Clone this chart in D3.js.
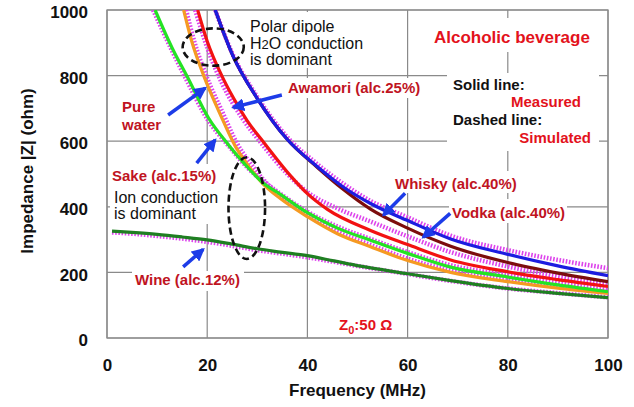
<!DOCTYPE html>
<html>
<head>
<meta charset="utf-8">
<script src="https://cdn.jsdelivr.net/npm/d3@7"></script>
<style>
  html, body { margin: 0; padding: 0; background: #fff; }
  svg { display: block; font-family: "Liberation Sans", Arial, sans-serif; }
</style>
</head>
<body>
<svg id="chart" width="634" height="407"></svg>
<script>
// ---- axis ticks ----
const freqTicks = [0, 20, 40, 60, 80, 100];
const impTicks = [0, 200, 400, 600, 800, 1000];

// ---- measured impedance |Z| (ohm) vs frequency (MHz) ----
const whiskyMeasured = [[21.6,1000],[25,865],[30,730],[36,605],[42,522],[47,462],[52.6,410],[60,358],[68.6,302],[80,255],[90,220],[100,190]];
const vodkaMeasured = [[21.6,1000],[25,865],[30,730],[36,605],[42,520],[47,455],[52.6,393],[60,335],[68.6,280],[80,230],[90,198],[100,172]];
const awamoriMeasured = [[18.1,1000],[20,905],[22.9,800],[25.3,730],[28,662],[31.3,596],[36.6,495],[40,440],[44,392],[52.6,328],[60,285],[68.6,238],[80,202],[90,178],[100,157]];
const pureWaterMeasured = [[15.3,1000],[17,900],[19.3,800],[22.6,682],[25.6,585],[28,530],[31,472],[34.6,425],[40,370],[46,318],[52.6,278],[60,236],[68.6,200],[80,172],[90,152],[100,136]];
const sakeMeasured = [[9.6,1000],[13.3,875],[15.9,800],[20.3,670],[24.3,588],[27.5,530],[31.3,471],[34.6,438],[40,382],[46,335],[52.6,298],[60,258],[68.6,216],[80,186],[90,162],[100,141]];
const wineMeasured = [[1,326],[5,322],[10,316],[15,308],[20,299],[25,286],[30,272],[34.6,262],[40,251],[45,236],[50.6,219],[60,196],[68.6,175],[80,151],[90,136],[100,123]];

// ---- simulated impedance ----
const whiskySim = [[21.6,1000],[25,868],[30,735],[36,612],[42,530],[47,472],[52.6,418],[60,368],[68.6,312],[80,268],[90,238],[100,213]];
const awamoriSim = [[17.6,1000],[20,885],[23,775],[27,670],[31,590],[36,500],[40,445],[46,395],[52.6,355],[60,310],[68.6,262],[80,218],[90,188],[100,163]];
const pureWaterSim = [[15.8,1000],[17.5,900],[19.8,800],[23,690],[26,592],[28.5,535],[31.5,478],[35,428],[40,376],[46,324],[52.6,284],[60,242],[68.6,206],[80,176],[90,156],[100,140]];
const sakeSim = [[9.2,1000],[13,875],[15.6,795],[20,668],[24.3,585],[28,520],[34.6,440],[40,385],[46,340],[52.6,302],[60,262],[68.6,222],[80,192],[90,168],[100,146]];
const wineSim = [[1,322],[5,318],[10,311],[15,303],[20,293],[25,281],[30,268],[35,257],[40,246],[45,233],[50.6,218],[60,195],[68.6,174],[80,151],[90,137],[100,124]];

// ---- chart frame ----
const svg = d3.select("#chart");
const plot = { left: 107, right: 608, top: 10, bottom: 338 };
const x = d3.scaleLinear().domain([0, 100]).range([plot.left, plot.right]);
const y = d3.scaleLinear().domain([0, 1000]).range([plot.bottom, plot.top]);

const C = {
  grid: "#8a8a8a",
  blue: "#1c1ce0",
  brown: "#7c0d0d",
  red: "#f21212",
  orange: "#f59a22",
  green: "#24e324",
  darkGreen: "#1f7f22",
  sim: "#dd44ec",
  arrow: "#1d3ce8",
  label: "#c0141f",
  heading: "#e3121c"
};

svg.append("defs").append("clipPath").attr("id", "plotClip")
  .append("rect")
  .attr("x", plot.left).attr("y", plot.top)
  .attr("width", plot.right - plot.left).attr("height", plot.bottom - plot.top);

// grid
const grid = svg.append("g");
grid.selectAll(".vg").data(freqTicks).join("line")
  .attr("x1", d => x(d)).attr("x2", d => x(d))
  .attr("y1", plot.top).attr("y2", plot.bottom)
  .attr("stroke", C.grid).attr("stroke-width", 1.2);
grid.selectAll(".hg").data(impTicks).join("line")
  .attr("x1", plot.left).attr("x2", plot.right)
  .attr("y1", d => y(d)).attr("y2", d => y(d))
  .attr("stroke", C.grid).attr("stroke-width", 1.2);

// axes
const xAxis = d3.axisBottom(x).tickValues(freqTicks).tickFormat(d3.format("d")).tickSize(0).tickPadding(0);
const yAxis = d3.axisLeft(y).tickValues(impTicks).tickFormat(d3.format("d")).tickSize(0).tickPadding(0);
const gx = svg.append("g").attr("transform", `translate(0,${plot.bottom})`).call(xAxis);
const gy = svg.append("g").attr("transform", `translate(${plot.left},0)`).call(yAxis);
[gx, gy].forEach(g => {
  g.select(".domain").remove();
  g.selectAll("text")
    .attr("font-family", "'Liberation Sans', Arial, sans-serif")
    .attr("font-size", 17).attr("font-weight", "bold").attr("fill", "#111");
});
gx.selectAll("text").attr("y", 33).attr("dy", 0);
gy.selectAll("text").attr("x", -19).attr("dy", "0.45em");

svg.append("text")
  .attr("x", (plot.left + plot.right) / 2).attr("y", 396)
  .attr("text-anchor", "middle")
  .attr("font-size", 17).attr("font-weight", "bold").attr("fill", "#111")
  .text("Frequency (MHz)");
svg.append("text")
  .attr("transform", `translate(33,${(plot.top + plot.bottom) / 2 - 3}) rotate(-90)`)
  .attr("text-anchor", "middle")
  .attr("font-size", 17).attr("font-weight", "bold").attr("fill", "#111")
  .text("Impedance |Z| (ohm)");

// white panels behind annotation text
const panels = [
  [247, 12, 145, 56],
  [430, 18, 165, 34],
  [447, 73, 152, 78],
  [284, 78, 142, 20],
  [110, 164, 118, 60],
  [392, 171, 130, 22],
  [449, 199, 118, 24],
  [132, 271, 112, 20]
];
svg.append("g").selectAll("rect").data(panels).join("rect")
  .attr("x", d => d[0]).attr("y", d => d[1])
  .attr("width", d => d[2]).attr("height", d => d[3])
  .attr("fill", "#fff");

// border
svg.append("rect")
  .attr("x", plot.left).attr("y", plot.top)
  .attr("width", plot.right - plot.left).attr("height", plot.bottom - plot.top)
  .attr("fill", "none").attr("stroke", C.grid).attr("stroke-width", 1.3);

// text annotations
function label(txt, px, py, opts = {}) {
  return svg.append("text")
    .attr("x", px).attr("y", py)
    .attr("text-anchor", opts.anchor || "start")
    .attr("font-size", opts.size || 15)
    .attr("font-weight", opts.weight || "bold")
    .attr("fill", opts.color || C.label)
    .text(txt);
}
const note = { size: 16, weight: "normal", color: "#111" };
label("Polar dipole", 250, 32, note);
const h2o = svg.append("text").attr("x", 250).attr("y", 48.5)
  .attr("font-size", 16).attr("fill", "#111");
h2o.append("tspan").text("H");
h2o.append("tspan").attr("font-size", 13).text("2");
h2o.append("tspan").text("O conduction");
label("is dominant", 250, 65, note);

label("Alcoholic beverage", 434, 43, { size: 17, color: C.heading });
label("Solid line:", 453, 90, { color: "#111" });
label("Measured", 581, 107, { color: C.heading, anchor: "end" });
label("Dashed line:", 453, 125, { color: "#111" });
label("Simulated", 591, 143, { color: C.heading, anchor: "end" });

label("Awamori (alc.25%)", 288, 93);
label("Pure", 122, 112);
label("water", 122, 130);
label("Sake (alc.15%)", 112, 181);
label("Ion conduction", 114, 203, note);
label("is dominant", 114, 219, note);
label("Wine (alc.12%)", 135, 285);
label("Whisky (alc.40%)", 395, 189);
label("Vodka (alc.40%)", 452, 218);

const z0 = svg.append("text").attr("x", 339).attr("y", 330)
  .attr("font-size", 15).attr("font-weight", "bold").attr("fill", C.heading);
z0.append("tspan").text("Z");
z0.append("tspan").attr("font-size", 11).attr("dy", 4).text("0");
z0.append("tspan").attr("dy", -4).text(":50 Ω");

// curves
const line = d3.line().x(d => x(d[0])).y(d => y(d[1])).curve(d3.curveMonotoneX);
const curves = svg.append("g").attr("clip-path", "url(#plotClip)");

const simSeries = [wineSim, sakeSim, pureWaterSim, awamoriSim, whiskySim];
curves.selectAll(".sim").data(simSeries).join("path")
  .attr("d", line)
  .attr("fill", "none")
  .attr("stroke", C.sim)
  .attr("stroke-width", 4.5)
  .attr("stroke-dasharray", "1.6 1.6");

const measuredSeries = [
  { data: wineMeasured, color: C.darkGreen },
  { data: pureWaterMeasured, color: C.orange },
  { data: sakeMeasured, color: C.green },
  { data: awamoriMeasured, color: C.red },
  { data: vodkaMeasured, color: C.brown },
  { data: whiskyMeasured, color: C.blue }
];
curves.selectAll(".meas").data(measuredSeries).join("path")
  .attr("d", d => line(d.data))
  .attr("fill", "none")
  .attr("stroke", d => d.color)
  .attr("stroke-width", 3.2)
  .attr("stroke-linejoin", "round");

// pointer arrows, in data units: [f1, z1, f2, z2] tail -> tip
const arrows = [
  [12.2, 680, 19.6, 762],
  [17.9, 533, 21.6, 604],
  [34.9, 741, 25.2, 703],
  [59.5, 441, 55.2, 375],
  [68.5, 380, 63.1, 307],
  [15.2, 217, 19.2, 270]
];
svg.select("defs").append("marker")
  .attr("id", "head").attr("markerUnits", "userSpaceOnUse")
  .attr("viewBox", "0 0 12 12").attr("refX", 10).attr("refY", 6)
  .attr("markerWidth", 13).attr("markerHeight", 13).attr("orient", "auto")
  .append("path").attr("d", "M0,0 L12,6 L0,12 Z").attr("fill", C.arrow);
svg.append("g").selectAll("line").data(arrows).join("line")
  .attr("x1", d => x(d[0])).attr("y1", d => y(d[1]))
  .attr("x2", d => x(d[2])).attr("y2", d => y(d[3]))
  .attr("stroke", C.arrow).attr("stroke-width", 3.5)
  .attr("marker-end", "url(#head)");

// dashed ellipses: [f center, z center, f radius, z radius]
const regions = [
  [21.2, 887, 6.1, 57],
  [27.9, 396, 3.65, 155]
];
svg.append("g").selectAll("ellipse").data(regions).join("ellipse")
  .attr("cx", d => x(d[0])).attr("cy", d => y(d[1]))
  .attr("rx", d => x(d[2]) - x(0)).attr("ry", d => y(0) - y(d[3]))
  .attr("fill", "none").attr("stroke", "#111")
  .attr("stroke-width", 2.6).attr("stroke-dasharray", "7 4");
</script>
</body>
</html>
